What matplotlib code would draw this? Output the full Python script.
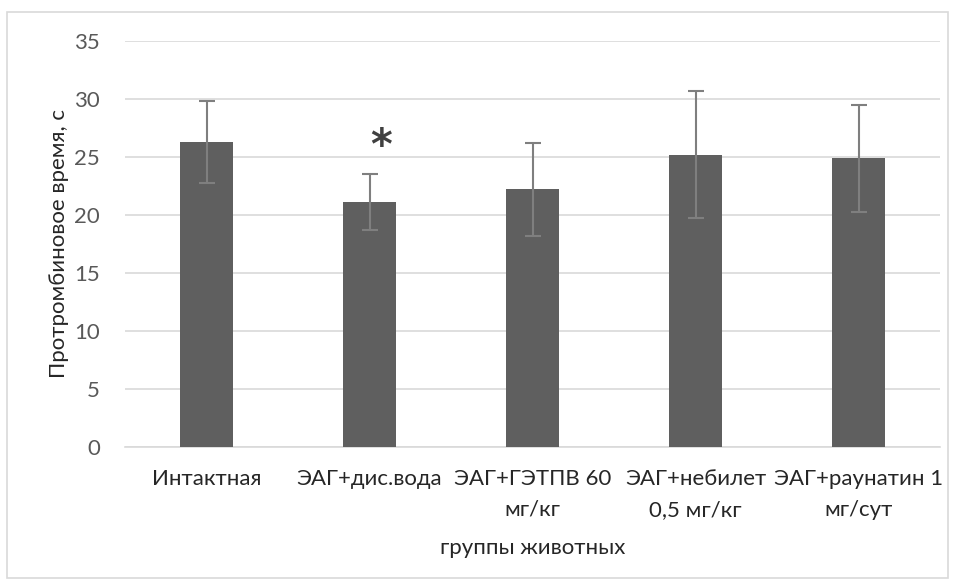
import numpy as np
import matplotlib.pyplot as plt
from matplotlib.patches import Rectangle

plt.rcParams['font.family'] = ['Lato', 'DejaVu Sans']

groups = ['Интактная', 'ЭАГ+дис.вода', 'ЭАГ+ГЭТПВ 60\nмг/кг',
          'ЭАГ+небилет\n0,5 мг/кг', 'ЭАГ+раунатин 1\nмг/сут']
means = [26.3, 21.1, 22.2, 25.2, 24.9]
sd = [3.5, 2.4, 4.05, 5.5, 4.6]
y_ticks = [0, 5, 10, 15, 20, 25, 30, 35]

fig = plt.figure(figsize=(9.56, 5.8), dpi=100)
ax = fig.add_axes([125 / 956, 1 - 447 / 580, 815 / 956, 406 / 580])

# рамка вокруг всей диаграммы
fig.patches.append(Rectangle((7 / 956, 2 / 580), 941 / 956, 566 / 580,
                             transform=fig.transFigure, fill=False,
                             edgecolor='#d9d9d9', linewidth=1.2))

x = np.arange(len(groups))
ax.bar(x, means, width=0.33, color='#5f5f5f', zorder=3)
ax.errorbar(x, means, yerr=sd, fmt='none', ecolor='#7f7f7f',
            elinewidth=1.5, capsize=6, capthick=1.5, zorder=4)

# отметка достоверного отличия
ax.text(x[1] + 0.07, 25.9, '*', ha='center', va='center',
        fontsize=30, fontweight='bold', color='#404040', family='DejaVu Sans')

ax.set_xlim(-0.5, len(groups) - 0.5)
ax.set_ylim(0, 35)
ax.set_yticks(y_ticks)
ax.yaxis.grid(True, color='#d9d9d9', linewidth=1.2, zorder=0)
for s in ['top', 'right', 'left']:
    ax.spines[s].set_visible(False)
ax.spines['bottom'].set_color('#d9d9d9')
ax.spines['bottom'].set_linewidth(1.2)
ax.tick_params(axis='both', length=0)
ax.tick_params(axis='y', labelsize=16, labelcolor='#595959', pad=18)
ax.set_xticks(x)
ax.set_xticklabels(groups, fontsize=16, color='#262626', linespacing=1.65)
ax.tick_params(axis='x', pad=16)

ax.set_ylabel('Протромбиновое время, с', fontsize=16, color='#262626', labelpad=4)
ax.set_xlabel('группы животных', fontsize=16, color='#262626', labelpad=13)

fig.savefig('out.png', dpi=100)
